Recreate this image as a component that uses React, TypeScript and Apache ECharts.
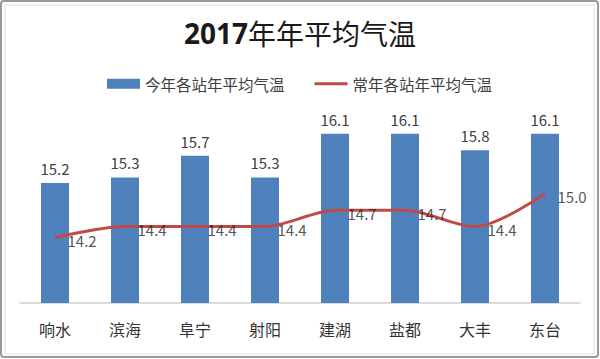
import React, { useEffect, useRef } from "react";
import * as echarts from "echarts";

const categories = ["响水", "滨海", "阜宁", "射阳", "建湖", "盐都", "大丰", "东台"];
const thisYear = [15.2, 15.3, 15.7, 15.3, 16.1, 16.1, 15.8, 16.1];
const normalYear = [14.2, 14.4, 14.4, 14.4, 14.7, 14.7, 14.4, 15.0];
const barName = "今年各站年平均气温";
const lineName = "常年各站年平均气温";
const titleYear = "2017";
const titleRest = "年年平均气温";

const FONT = "'Noto Sans CJK SC', 'Noto Sans', sans-serif";

export default function App() {
  const ref = useRef<HTMLDivElement>(null);
  useEffect(() => {
    if (!ref.current) return;
    const chart = echarts.init(ref.current, undefined, { renderer: "svg" });
    chart.setOption({
      animation: false,
      backgroundColor: "#ffffff",
      textStyle: { fontFamily: FONT },
      title: {
        text: `{y|${titleYear}}{r|${titleRest}}`,
        left: "center",
        top: 14,
        textStyle: {
          fontFamily: FONT,
          fontSize: 28,
          color: "#1a1a1a",
          rich: {
            y: { fontFamily: "'Open Sans', 'Noto Sans', sans-serif", fontSize: 28, fontWeight: "bold", color: "#1a1a1a" },
            r: { fontFamily: FONT, fontSize: 28, fontWeight: "normal", color: "#1a1a1a" },
          },
        },
      },
      legend: {
        top: 71,
        left: 102,
        itemWidth: 33,
        itemHeight: 10,
        itemGap: 30,
        textStyle: { fontFamily: FONT, fontSize: 15.5, color: "#404040" },
        data: [
          { name: barName, icon: "rect" },
          { name: lineName, icon: "path://M0,0 L33,0 L33,3 L0,3 Z" },
        ],
      },
      graphic: [
        {
          type: "rect",
          shape: { x: 1, y: 1, width: 597, height: 356, r: 3 },
          style: { fill: "none", stroke: "#9a9a9a", lineWidth: 2 },
          silent: true,
        },
        {
          type: "rect",
          shape: { x: 5, y: 5, width: 589, height: 349 },
          style: { fill: "none", stroke: "#e0e0e0", lineWidth: 1 },
          silent: true,
        },
      ],
      grid: { left: 20, right: 20, top: 112, bottom: 56, containLabel: false },
      xAxis: {
        type: "category",
        data: categories,
        axisTick: { show: false },
        axisLine: { lineStyle: { color: "#cfcfcf", width: 1.5 } },
        axisLabel: { fontFamily: FONT, fontSize: 16, color: "#333333", margin: 18 },
      },
      yAxis: {
        type: "value",
        min: 13,
        max: 16.5,
        show: false,
        splitLine: { show: false },
      },
      series: [
        {
          name: barName,
          type: "bar",
          data: thisYear,
          barWidth: "40%",
          itemStyle: { color: "#4F81BD" },
          label: {
            show: true,
            position: "top",
            distance: 7,
            fontFamily: FONT,
            fontSize: 15,
            color: "#404040",
            formatter: (p: any) => Number(p.value).toFixed(1),
          },
        },
        {
          name: lineName,
          type: "line",
          data: normalYear,
          smooth: 0.3,
          symbol: "none",
          showSymbol: false,
          lineStyle: { color: "#BE4B48", width: 3 },
          itemStyle: { color: "#BE4B48" },
        },
        {
          name: "lineLabels",
          type: "scatter",
          data: normalYear,
          symbolSize: 1,
          itemStyle: { color: "rgba(0,0,0,0)" },
          z: 5,
          label: {
            show: true,
            position: "right",
            distance: 12,
            offset: [0, 3],
            fontFamily: FONT,
            fontSize: 15,
            color: "#262626",
            formatter: (p: any) => Number(p.value).toFixed(1),
          },
        },
      ],
    });
    return () => chart.dispose();
  }, []);
  return (
    <div
      ref={ref}
      style={{ position: "absolute", left: 0, top: 0, width: 600, height: 359 }}
    />
  );
}
